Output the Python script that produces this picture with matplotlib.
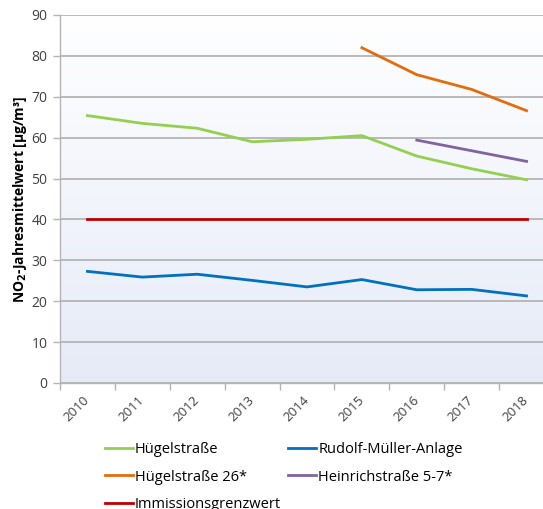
import matplotlib.pyplot as plt
import numpy as np

# NO2 annual means per station
years = ['2010', '2011', '2012', '2013', '2014', '2015', '2016', '2017', '2018']
huegel = [65.4, 63.5, 62.3, 59.0, 59.6, 60.5, 55.5, 52.4, 49.7]
rudolf = [27.3, 25.9, 26.6, 25.1, 23.5, 25.3, 22.8, 22.9, 21.3]
huegel26_years = ['2015', '2016', '2017', '2018']
huegel26 = [82.0, 75.4, 71.8, 66.6]
heinrich_years = ['2016', '2017', '2018']
heinrich = [59.4, 56.8, 54.2]
limit = [40] * len(years)

plt.rcParams['font.family'] = ['Open Sans', 'DejaVu Sans']

fig = plt.figure(figsize=(5.43, 5.09), dpi=100)
ax = fig.add_axes([60 / 543, 126 / 509, 494 / 543, 368 / 509])

x = np.arange(len(years))
pos = {y: i for i, y in enumerate(years)}

# soft vertical gradient behind the plot
grad = np.linspace(0, 1, 256).reshape(-1, 1)
top = np.array([1.0, 1.0, 1.0])
bottom = np.array([0.90, 0.92, 0.97])
img = top + (bottom - top) * grad[..., None]
ax.imshow(img, extent=[0, 1, 0, 1], transform=ax.transAxes, aspect='auto', zorder=0)

lw = 2.0
l1, = ax.plot(x, huegel, color='#92d050', lw=lw, label='Hügelstraße', zorder=3)
l2, = ax.plot(x, rudolf, color='#0070c0', lw=lw, label='Rudolf-Müller-Anlage', zorder=3)
l3, = ax.plot([pos[y] for y in huegel26_years], huegel26, color='#e46c0a', lw=lw,
              label='Hügelstraße 26*', zorder=3)
l4, = ax.plot([pos[y] for y in heinrich_years], heinrich, color='#8064a2', lw=lw,
              label='Heinrichstraße 5-7*', zorder=3)
l5, = ax.plot(x, limit, color='#c00000', lw=lw, label='Immissionsgrenzwert', zorder=3)

ax.set_xlim(-0.5, len(years) - 0.5)
ax.set_ylim(0, 90)
ax.set_yticks(range(0, 91, 10))
ax.grid(axis='y', color='#b4b4b4', lw=1.3, zorder=1)
ax.set_axisbelow(True)

ax.set_xticks(x)
ax.set_xticklabels(years, rotation=45, ha='right', va='center', rotation_mode='anchor',
                   fontsize=9.5, color='#404040')
ax.set_xticks(np.arange(-0.5, len(years), 1), minor=True)
ax.tick_params(axis='x', which='major', length=0, pad=11)
ax.tick_params(axis='x', which='minor', length=5, color='#b4b4b4', width=1)
ax.tick_params(axis='y', length=5, color='#b4b4b4', width=1, labelsize=10, labelcolor='#404040', pad=4)

for s in ['top', 'right']:
    ax.spines[s].set_visible(False)
for s in ['left', 'bottom']:
    ax.spines[s].set_color('#b4b4b4')
    ax.spines[s].set_linewidth(1)

ax.set_ylabel(r'NO$_\mathbf{2}$-Jahresmittelwert [µg/m³]', fontsize=10, fontweight='bold', labelpad=2)

fig.legend(handles=[l1, l3, l5, l2, l4], ncol=2, loc='upper left',
           bbox_to_anchor=(105 / 543, 1 - 442 / 509), frameon=False, fontsize=10.5,
           handlelength=1.9, handletextpad=0.15, columnspacing=0.5, labelspacing=0.86,
           borderpad=0, borderaxespad=0)

fig.savefig('out.png', dpi=100)
